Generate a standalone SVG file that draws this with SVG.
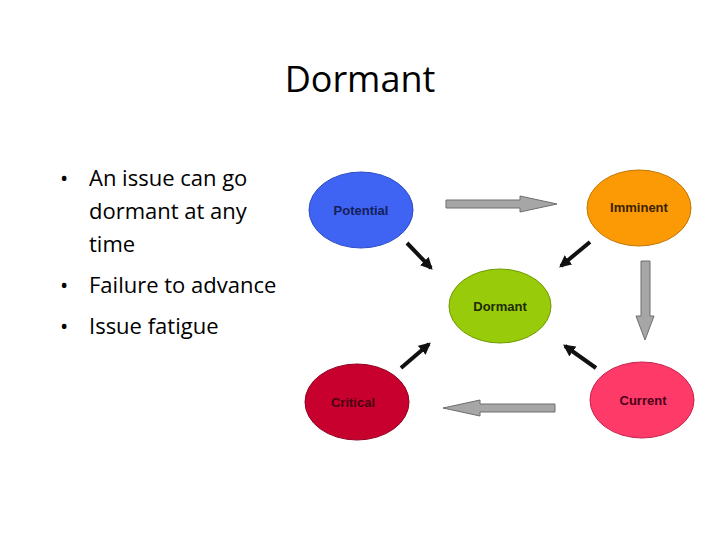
<svg xmlns="http://www.w3.org/2000/svg" width="720" height="540" viewBox="0 0 720 540">
<style>
.t{font-family:"Open Sans","Liberation Sans",sans-serif;fill:#000}
.b{font-size:22px}
.n{font-family:"Liberation Sans",Arial,sans-serif;font-weight:bold;font-size:13px;text-anchor:middle}
.g{fill:#a6a6a6;stroke:#6e6e6e;stroke-width:1}
.k{stroke:#111;stroke-width:4}
</style>
<defs>
<marker id="ah" viewBox="0 0 10 10" refX="8" refY="5" markerWidth="3" markerHeight="3" orient="auto"><path d="M0,0L10,5L0,10z" fill="#111"/></marker>
</defs>
<rect width="720" height="540" fill="#fff"/>
<text class="t" x="360" y="92" font-size="36" text-anchor="middle">Dormant</text>
<g class="t b">
<text x="60" y="186">•</text><text x="89" y="186">An issue can go</text>
<text x="89" y="219">dormant at any</text>
<text x="89" y="252">time</text>
<text x="60" y="293">•</text><text x="89" y="293">Failure to advance</text>
<text x="60" y="334">•</text><text x="89" y="334">Issue fatigue</text>
</g>
<g id="connectors">
<path class="g" d="M446,200H520V196L557,204L520,212V208H446z"/>
<path class="g" d="M641,261H650V316H654L645,340L636,316H641z"/>
<path class="g" d="M555,404H480V400L443,408L480,416V412H555z"/>
<line class="k" x1="407" y1="243" x2="431" y2="268" marker-end="url(#ah)"/>
<line class="k" x1="590" y1="242" x2="561" y2="266" marker-end="url(#ah)"/>
<line class="k" x1="596" y1="368" x2="565" y2="346" marker-end="url(#ah)"/>
<line class="k" x1="401" y1="368" x2="429" y2="344" marker-end="url(#ah)"/>
</g>
<g id="potential"><ellipse cx="361" cy="210" rx="52" ry="38" fill="#3f63f3" stroke="#2c4cc0"/><text class="n" x="361" y="215" fill="#14205a">Potential</text></g>
<g id="imminent"><ellipse cx="639" cy="208" rx="52" ry="38" fill="#fb9a05" stroke="#c07500"/><text class="n" x="639" y="212" fill="#3a2200">Imminent</text></g>
<g id="dormant"><ellipse cx="500" cy="306" rx="51" ry="37" fill="#98cc0a" stroke="#6e9a00"/><text class="n" x="500" y="311" fill="#1e2a00">Dormant</text></g>
<g id="critical"><ellipse cx="357" cy="402" rx="52" ry="38" fill="#c8002e" stroke="#900020"/><text class="n" x="353" y="407" fill="#4a0010">Critical</text></g>
<g id="current"><ellipse cx="642" cy="400" rx="52" ry="38" fill="#fd3a68" stroke="#c8204a"/><text class="n" x="643" y="405" fill="#4a0018">Current</text></g>
</svg>
